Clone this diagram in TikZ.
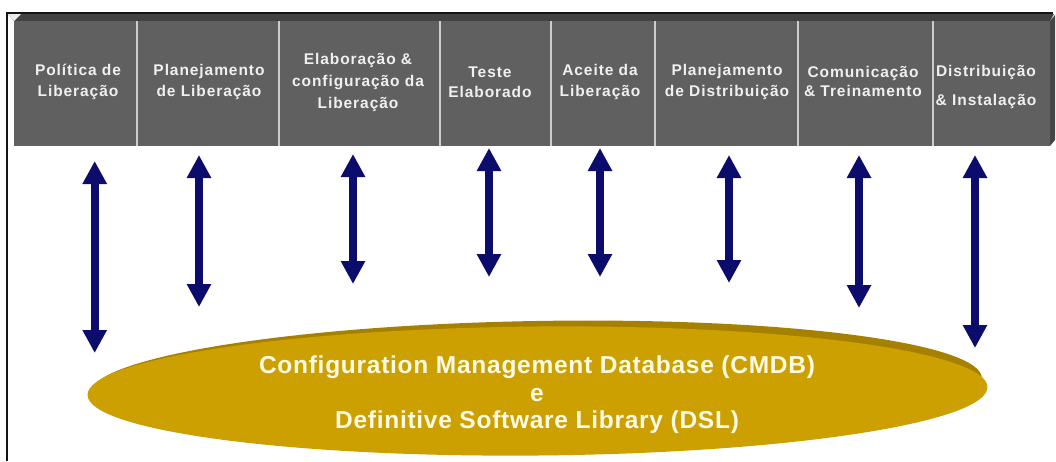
\documentclass[tikz,border=0pt]{standalone}
\usepackage{fontspec}
\setmainfont{Liberation Sans}
\newfontfamily\headfont{Liberation Sans}[LetterSpace=6]
\newfontfamily\dbfont{Liberation Sans}[LetterSpace=3]
\usetikzlibrary{arrows.meta,shapes.geometric}

\definecolor{panelgray}{RGB}{96,96,96}
\definecolor{paneltop}{RGB}{66,66,66}
\definecolor{panelside}{RGB}{70,70,70}
\definecolor{paneledge}{RGB}{20,20,20}
\definecolor{sepline}{RGB}{205,205,205}
\definecolor{navyarrow}{RGB}{12,12,108}
\definecolor{goldfill}{RGB}{204,160,0}
\definecolor{goldrim}{RGB}{166,128,0}
\definecolor{creamtext}{RGB}{255,250,228}

\begin{document}
\begin{tikzpicture}[x=1pt,y=-1pt,
  cell/.style={font=\headfont\bfseries\fontsize{15.5}{20.5}\selectfont,
    text=white!94!black, align=center, inner sep=0pt},
  link/.style={draw=navyarrow, line width=8pt,
    {Triangle[width=23pt,length=23pt]}-{Triangle[width=23pt,length=23pt]}},
  dbshape/.style={ellipse, fill=goldfill, inner sep=0pt,
    minimum width=900pt, minimum height=129pt},
  dbtext/.style={font=\dbfont\bfseries\fontsize{24.5}{27.5}\selectfont,
    text=creamtext, align=center, inner sep=0pt},
  separator/.style={draw=sepline, line width=1.2pt}]

% canvas
\fill[white] (0,0) rectangle (1056,461);
\useasboundingbox (0,0) rectangle (1056,461);

% outer frame
\draw[paneledge, line width=1.6pt] (7,461) -- (7,13) -- (1053,13);

% header panel with bevelled edges
\fill[paneltop] (8,14) -- (1054,14) -- (1050,21) -- (14,21) -- cycle;
\fill[white!85!gray] (8,14) -- (21,14) -- (14,21) -- cycle;
\fill[panelside] (1050,21) -- (1055,15) -- (1055,140) -- (1050,146) -- cycle;
\fill[panelgray] (14,21) rectangle (1050,146);

% cell separators
\foreach \x in {137,279,440,551,655,798,933}
  \draw[separator] (\x,21) -- (\x,146);

% process stages
\node[cell] (c1) at (78,82)  {Política de\\Liberação};
\node[cell] (c2) at (209,82) {Planejamento\\de Liberação};
\node[cell] (c3) at (358,82) {Elaboração \&\\[1.5pt]configuração da\\[1.5pt]Liberação};
\node[cell] (c4) at (490,82) {Teste\\Elaborado};
\node[cell] (c5) at (600,82) {Aceite da\\Liberação};
\node[cell] (c6) at (727,82) {Planejamento\\de Distribuição};
\node[cell] (c7) at (863,81) {Comunicação\\[-1.5pt]\& Treinamento};
\node[cell] (c8) at (986,87) {Distribuição\\[9pt]\& Instalação};

% database ellipse with its darker rim, thicker towards the right
\fill[goldrim, rotate around={1.0:(536,386)}] (536,386) ellipse [x radius=446, y radius=65];
\node[dbshape, rotate=0.5] (cmdb) at (537.5,391) {};
\node[dbtext] (cmdbtext) at (537,395)
  {Configuration Management Database (CMDB)\\e\\Definitive Software Library (DSL)};

% arrow end points
\coordinate (t1) at (94.7,161); \coordinate (b1) at (94.7,353);
\coordinate (t2) at (199,155);  \coordinate (b2) at (199,307);
\coordinate (t3) at (353,154);  \coordinate (b3) at (353,284);
\coordinate (t4) at (489,148);  \coordinate (b4) at (489,277);
\coordinate (t5) at (600,148);  \coordinate (b5) at (600,277);
\coordinate (t6) at (729,155);  \coordinate (b6) at (729,283);
\coordinate (t7) at (859,155);  \coordinate (b7) at (859,308);
\coordinate (t8) at (975,155);  \coordinate (b8) at (975,348);

% two-way links between stages and the database
\foreach \i in {1,...,8}
  \draw[link] (t\i) -- (b\i);
\end{tikzpicture}
\end{document}
